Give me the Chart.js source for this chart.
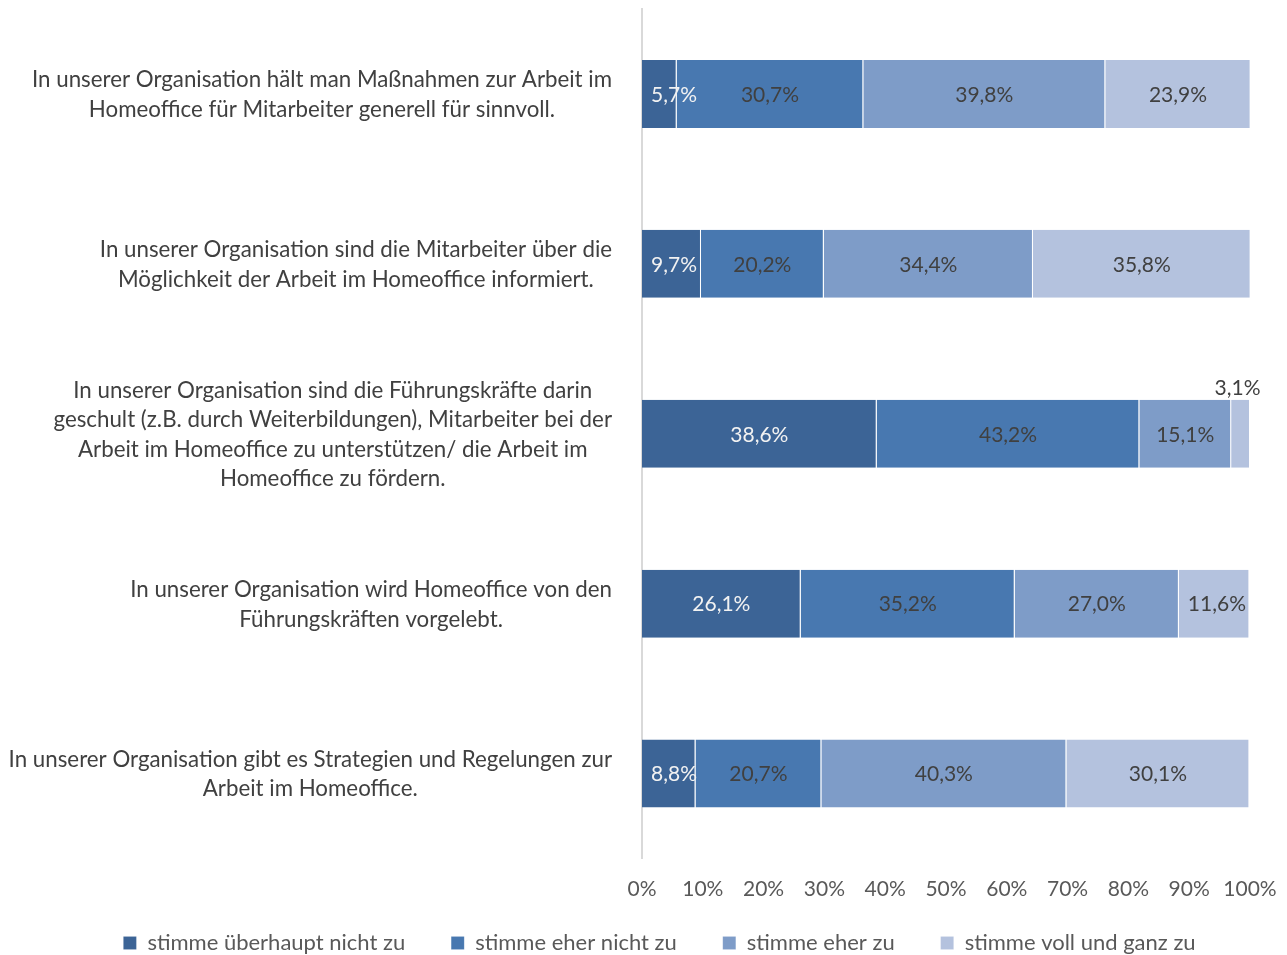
<!DOCTYPE html>
<html>
<head>
<meta charset="utf-8">
<script src="https://cdn.jsdelivr.net/npm/chart.js@4.4.1/dist/chart.umd.min.js"></script>
<style>
  html, body { margin: 0; padding: 0; background: #ffffff; }
  #wrap { width: 1287px; height: 955px; }
</style>
</head>
<body>
<div id="wrap"><canvas id="c" width="1287" height="955"></canvas></div>
<script>
// ---- data ----
const categories = [
  ["In unserer Organisation hält man Maßnahmen zur Arbeit im", "Homeoffice für Mitarbeiter generell für sinnvoll."],
  ["In unserer Organisation sind die Mitarbeiter über die", "Möglichkeit der Arbeit im Homeoffice informiert."],
  ["In unserer Organisation sind die Führungskräfte darin", "geschult (z.B. durch Weiterbildungen), Mitarbeiter bei der", "Arbeit im Homeoffice zu unterstützen/ die Arbeit im", "Homeoffice zu fördern."],
  ["In unserer Organisation wird Homeoffice von den", "Führungskräften vorgelebt."],
  ["In unserer Organisation gibt es Strategien und Regelungen zur", "Arbeit im Homeoffice."]
];
const seriesNames = ["stimme überhaupt nicht zu", "stimme eher nicht zu", "stimme eher zu", "stimme voll und ganz zu"];
const stimmeUeberhauptNicht = [5.7, 9.7, 38.6, 26.1, 8.8];
const stimmeEherNicht = [30.7, 20.2, 43.2, 35.2, 20.7];
const stimmeEher = [39.8, 34.4, 15.1, 27.0, 40.3];
const stimmeVoll = [23.9, 35.8, 3.1, 11.6, 30.1];
const xTickValues = [0, 10, 20, 30, 40, 50, 60, 70, 80, 90, 100];

const colors = ["#3C6496", "#4878B0", "#7E9CC8", "#B4C2DE"];
const labelColors = ["#f2f2f2", "#404040", "#404040", "#404040"];
const FONT = "Lato";

const fmt = v => v.toFixed(1).replace(".", ",") + "%";

// category labels drawn block-centred, right-aligned as a block
const catLabelPlugin = {
  id: "catLabels",
  afterDraw(chart) {
    const ctx = chart.ctx;
    const y = chart.scales.y;
    const right = chart.chartArea.left - 30;
    const lh = 29.5;
    ctx.save();
    ctx.font = "22.3px " + FONT;
    ctx.fillStyle = "#404040";
    ctx.textAlign = "center";
    ctx.textBaseline = "middle";
    chart.data.labels.forEach((lines, i) => {
      const cy = y.getPixelForValue(i);
      let w = 0;
      lines.forEach(l => { w = Math.max(w, ctx.measureText(l).width); });
      const cx = right - w / 2;
      const y0 = cy - (lines.length - 1) * lh / 2;
      lines.forEach((l, k) => ctx.fillText(l, cx, y0 + k * lh + 1));
    });
    ctx.restore();
  }
};

// value labels inside segments
const valueLabelPlugin = {
  id: "valueLabels",
  afterDatasetsDraw(chart) {
    const ctx = chart.ctx;
    ctx.save();
    ctx.font = "21px " + FONT;
    ctx.textAlign = "center";
    ctx.textBaseline = "middle";
    chart.data.datasets.forEach((ds, di) => {
      const meta = chart.getDatasetMeta(di);
      meta.data.forEach((el, i) => {
        const v = ds.data[i];
        const txt = fmt(v);
        const w = ctx.measureText(txt).width;
        const left = Math.min(el.x, el.base);
        const segW = Math.abs(el.x - el.base);
        let cx = left + segW / 2;
        let cy = el.y;
        let col = labelColors[di];
        if (v < 5) {
          cy = el.y - el.height / 2 - 13;
          cx = left + segW / 2 - 3;
          col = "#404040";
        } else if (w + 20 > segW) {
          cx = Math.max(cx, left + 9 + w / 2);
        }
        ctx.fillStyle = col;
        ctx.fillText(txt, cx, cy + 1);
      });
    });
    ctx.restore();
  }
};

// legend: fixed layout height, then box moved so its wide item padding fits at the bottom
const legendTweak = {
  id: "legendTweak",
  afterInit(chart) {
    const lg = chart.legend;
    if (!lg || lg._tweaked) return;
    const orig = lg.fit.bind(lg);
    lg.fit = function () { orig(); this.height = 53; };
    lg._tweaked = true;
  },
  afterLayout(chart) {
    const lg = chart.legend;
    if (!lg) return;
    lg.top = chart.height - 69;
    lg.bottom = chart.height;
    lg.height = 69;
    lg.left = 32;
    lg.right = chart.width;
    lg.width = chart.width - 32;
  }
};

const datasets = [stimmeUeberhauptNicht, stimmeEherNicht, stimmeEher, stimmeVoll].map((d, i) => ({
  label: seriesNames[i],
  data: d,
  backgroundColor: colors[i],
  borderColor: "rgba(255,255,255,0.45)",
  borderWidth: { right: 1, left: 0, top: 0, bottom: 0 },
  borderSkipped: false,
  categoryPercentage: 0.4,
  barPercentage: 1.0
}));

new Chart(document.getElementById("c"), {
  type: "bar",
  data: { labels: categories, datasets },
  options: {
    indexAxis: "y",
    responsive: false,
    animation: false,
    layout: { padding: { top: 9, right: 0, left: 0, bottom: 0 } },
    scales: {
      x: {
        stacked: true,
        min: 0,
        max: 100,
        afterBuildTicks: s => { s.ticks = xTickValues.map(v => ({ value: v })); },
        grid: { display: false, drawTicks: false },
        border: { display: false },
        ticks: {
          autoSkip: false,
          maxRotation: 0,
          padding: 18,
          color: "#595959",
          font: { family: FONT, size: 21 },
          callback: v => v + "%"
        },
        afterFit: s => { s.paddingRight = 37; s.height = 43.5; }
      },
      y: {
        stacked: true,
        grid: { display: false, drawTicks: false },
        border: { display: true, color: "#d9d9d9", width: 2 },
        ticks: { display: false },
        afterFit: s => { s.width = 642; }
      }
    },
    plugins: {
      legend: {
        position: "bottom",
        labels: {
          boxWidth: 13,
          boxHeight: 13,
          padding: 46,
          color: "#595959",
          font: { family: FONT, size: 22 }
        }
      },
      tooltip: { enabled: false }
    }
  },
  plugins: [catLabelPlugin, valueLabelPlugin, legendTweak]
});
</script>
</body>
</html>
